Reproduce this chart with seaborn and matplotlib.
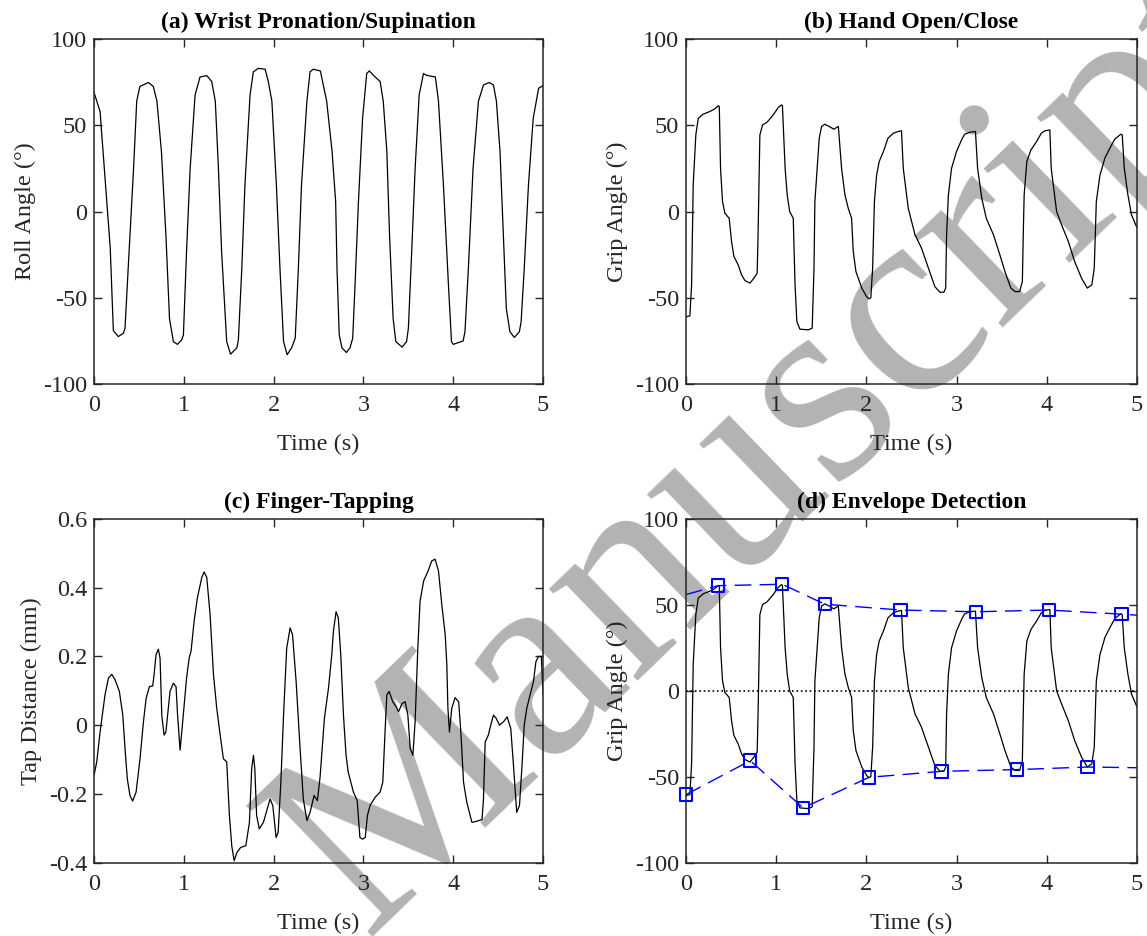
import matplotlib
matplotlib.use('Agg')
import matplotlib.pyplot as plt
import seaborn as sns

# (a) wrist pronation/supination - roll angle (deg)
roll_t = [0.0, 0.067, 0.12, 0.18, 0.215, 0.27, 0.327, 0.345, 0.38, 0.44, 0.475, 0.51, 0.605, 0.66, 0.70,
          0.75, 0.80, 0.84, 0.883, 0.928, 0.976, 0.995, 1.03, 1.07, 1.125, 1.18, 1.255, 1.31, 1.35, 1.385,
          1.42, 1.477, 1.52, 1.59, 1.607, 1.645, 1.68, 1.737, 1.774, 1.83, 1.905, 1.94, 1.98, 2.03, 2.07,
          2.11, 2.15, 2.2, 2.24, 2.275, 2.31, 2.37, 2.405, 2.44, 2.52, 2.59, 2.65, 2.69, 2.705, 2.73,
          2.76, 2.81, 2.85, 2.88, 2.906, 2.944, 2.99, 3.036, 3.065, 3.13, 3.185, 3.22, 3.26, 3.29, 3.33,
          3.36, 3.43, 3.48, 3.50, 3.537, 3.575, 3.62, 3.668, 3.70, 3.80, 3.835, 3.89, 3.946, 3.98, 4.0,
          4.11, 4.13, 4.168, 4.22, 4.28, 4.336, 4.40, 4.447, 4.48, 4.52, 4.55, 4.59, 4.63, 4.68, 4.736,
          4.755, 4.79, 4.837, 4.89, 4.95, 5.0]
roll_v = [69, 58, 21, -21, -69, -72.5, -70.5, -67.6, -33, 25, 64, 72.5, 74.8, 72.5, 64,
          35, -13.5, -62, -75.4, -77, -74.4, -71.5, -23, 25, 67.6, 78, 78.8, 75.4, 64, 25,
          -23, -75.4, -82.7, -79, -74.4, -33, 15.5, 67.6, 81, 83, 82.5, 75.4, 64, 15.5, -33,
          -75.4, -83, -79, -73.4, -33, 15.5, 64, 81, 82.5, 81.5, 64, 35, 5.8, -33, -71.5,
          -79, -81.7, -79, -73.4, -42.5, 5.8, 54, 80, 81.5, 78, 75.4, 64, 35, -13.5, -62,
          -75.4, -78.6, -75.4, -67.6, -23, 25, 67.6, 80, 79, 78, 64, 15.5, -42.5, -75.4, -77,
          -75, -69.6, -33, 25, 64, 73.4, 74.8, 73.4, 64, 35, -3.9, -56, -69.6, -73, -69.6,
          -64, -33, 15.5, 54, 71.5, 73]

# (b)/(d) hand open/close - grip angle (deg)
grip_t = [0.0, 0.044, 0.063, 0.081, 0.11, 0.137, 0.19, 0.266, 0.32, 0.358, 0.37, 0.384, 0.406, 0.432, 0.48,
          0.506, 0.532, 0.58, 0.617, 0.654, 0.71, 0.754, 0.79, 0.80, 0.82, 0.85, 0.90, 0.968, 1.024, 1.06,
          1.07, 1.10, 1.123, 1.15, 1.19, 1.21, 1.23, 1.264, 1.356, 1.40, 1.42, 1.43, 1.45, 1.478, 1.504,
          1.54, 1.59, 1.64, 1.67, 1.69, 1.726, 1.763, 1.80, 1.837, 1.855, 1.885, 1.95, 2.003, 2.03, 2.05,
          2.07, 2.09, 2.114, 2.143, 2.19, 2.24, 2.3, 2.354, 2.39, 2.41, 2.465, 2.54, 2.61, 2.69, 2.76,
          2.816, 2.86, 2.88, 2.89, 2.91, 2.945, 3.0, 3.056, 3.09, 3.15, 3.21, 3.234, 3.28, 3.33, 3.41,
          3.48, 3.537, 3.603, 3.65, 3.70, 3.73, 3.74, 3.75, 3.78, 3.825, 3.888, 3.94, 3.98, 4.035, 4.05,
          4.11, 4.165, 4.24, 4.31, 4.386, 4.45, 4.5, 4.527, 4.55, 4.59, 4.645, 4.70, 4.755, 4.82, 4.837,
          4.86, 4.9, 4.94, 5.0]
grip_v = [-61, -60.5, -42.5, 15.5, 44.4, 54, 56.4, 58, 59.5, 61.3, 61, 25, 5.8, -1, -3.9,
          -17.4, -26, -31, -36.7, -40, -41.5, -38.6, -35.7, -13.5, 44.4, 50.2, 51.8, 56, 60.3, 61.8,
          61.4, 25, 9.7, 0, -3.9, -42.5, -63.8, -68.2, -68.6, -67.6, -33, 5.8, 21, 42.5, 49.3,
          50.6, 49.3, 47.7, 48.7, 49.3, 25, 9.7, 1.9, -3.9, -23, -34.8, -44.4, -49.3, -50.6, -50,
          -33, 5.8, 21, 29, 34.8, 42.5, 45.4, 46.4, 46.8, 25, 1.9, -13.5, -21, -33, -43.5,
          -46.8, -46.8, -44.4, -13.5, 9.7, 25, 34.8, 41.5, 44.8, 46, 46.4, 25, 7.7, -3.9, -13.5,
          -25, -34.8, -44.4, -46.4, -46.4, -40.6, -13.5, 9.7, 29, 35.7, 40.6, 45.4, 46.8, 47.3, 25,
          0, -7.7, -17.4, -29, -38.6, -44.4, -42.5, -33, 5.8, 21, 31, 36.7, 42, 44.8, 44.4,
          25, 9.7, -1.9, -9.3]

# (c) finger tapping - tap distance (mm)
tap_t = [0.0, 0.03, 0.067, 0.122, 0.16, 0.197, 0.234, 0.282, 0.32, 0.345, 0.37, 0.40, 0.43, 0.468, 0.512,
         0.55, 0.58, 0.616, 0.653, 0.668, 0.69, 0.716, 0.735, 0.754, 0.78, 0.80, 0.846, 0.883, 0.913, 0.93,
         0.958, 0.987, 1.03, 1.06, 1.08, 1.114, 1.15, 1.2, 1.225, 1.255, 1.292, 1.33, 1.366, 1.40, 1.44,
         1.477, 1.507, 1.533, 1.56, 1.59, 1.633, 1.69, 1.73, 1.755, 1.775, 1.79, 1.81, 1.84, 1.886, 1.923,
         1.96, 1.99, 2.027, 2.05, 2.08, 2.11, 2.145, 2.183, 2.21, 2.25, 2.294, 2.33, 2.37, 2.405, 2.45,
         2.487, 2.517, 2.565, 2.61, 2.647, 2.665, 2.695, 2.72, 2.747, 2.777, 2.806, 2.83, 2.888, 2.93, 2.96,
         2.99, 3.02, 3.044, 3.073, 3.13, 3.185, 3.215, 3.24, 3.26, 3.285, 3.326, 3.363, 3.39, 3.43, 3.464,
         3.494, 3.52, 3.55, 3.575, 3.605, 3.63, 3.67, 3.72, 3.76, 3.797, 3.835, 3.872, 3.91, 3.928, 3.94,
         3.957, 3.983, 4.02, 4.06, 4.084, 4.114, 4.15, 4.207, 4.245, 4.32, 4.336, 4.355, 4.39, 4.417, 4.447,
         4.477, 4.514, 4.56, 4.6, 4.64, 4.67, 4.706, 4.737, 4.763, 4.79, 4.818, 4.855, 4.893, 4.92, 4.95,
         4.98, 5.0]
tap_v = [-0.146, -0.107, -0.02, 0.088, 0.137, 0.148, 0.132, 0.098, 0.029, -0.068, -0.156, -0.205, -0.221, -0.195, -0.098,
         0.01, 0.078, 0.112, 0.114, 0.146, 0.205, 0.221, 0.195, 0.029, -0.029, -0.02, 0.098, 0.122, 0.112, 0.029,
         -0.073, 0.01, 0.137, 0.197, 0.215, 0.302, 0.37, 0.43, 0.446, 0.43, 0.322, 0.146, 0.049, -0.02, -0.098,
         -0.107, -0.263, -0.351, -0.395, -0.371, -0.356, -0.351, -0.283, -0.127, -0.088, -0.127, -0.263, -0.302, -0.283, -0.249,
         -0.215, -0.234, -0.327, -0.312, -0.166, 0.029, 0.224, 0.283, 0.263, 0.127, -0.068, -0.215, -0.278, -0.254, -0.205,
         -0.22, -0.15, 0.02, 0.107, 0.205, 0.273, 0.33, 0.312, 0.205, 0.029, -0.088, -0.137, -0.195, -0.22, -0.327,
         -0.332, -0.327, -0.263, -0.234, -0.21, -0.195, -0.166, -0.02, 0.088, 0.098, 0.068, 0.054, 0.039, 0.063, 0.068,
         0.029, -0.068, -0.088, 0.01, 0.224, 0.361, 0.42, 0.449, 0.478, 0.483, 0.449, 0.351, 0.263, 0.176, 0.049,
         -0.02, 0.049, 0.08, 0.068, -0.02, -0.166, -0.224, -0.283, -0.281, -0.275, -0.215, -0.049, -0.029, 0.0, 0.029,
         0.02, 0.0, 0.01, 0.024, -0.01, -0.117, -0.254, -0.234, -0.127, 0.0, 0.049, 0.088, 0.127, 0.185, 0.2,
         0.2, 0.088]

# (d) envelope: detected peaks / troughs and the envelope curves
peak_t = [0.358, 1.068, 1.54, 2.38, 3.215, 4.024, 4.83]
peak_v = [61.2, 62, 50.4, 47, 46, 47, 44.6]
trough_t = [0.0, 0.713, 1.30, 2.03, 2.835, 3.67, 4.45]
trough_v = [-60.5, -40.7, -68.2, -50.4, -46.9, -45.9, -44.4]
upper_env_t = [0.0] + peak_t + [5.0]
upper_env_v = [56] + peak_v + [44]
lower_env_t = trough_t + [5.0]
lower_env_v = trough_v + [-44.8]

sns.set_theme(style='ticks')
plt.rcParams['font.family'] = ['Liberation Serif', 'DejaVu Serif']
plt.rcParams['axes.unicode_minus'] = False
plt.rcParams['axes.linewidth'] = 1.1
plt.rcParams['axes.edgecolor'] = '#262626'

fig = plt.figure(figsize=(11.47, 9.36), dpi=100)
ax_a = fig.add_axes([0.082, 0.5897, 0.3915, 0.3686])
ax_b = fig.add_axes([0.598, 0.5897, 0.3932, 0.3686])
ax_c = fig.add_axes([0.082, 0.0785, 0.3915, 0.367])
ax_d = fig.add_axes([0.598, 0.0785, 0.3932, 0.367])

line_kw = dict(color='black', linewidth=0.9)
sns.lineplot(x=roll_t, y=roll_v, ax=ax_a, **line_kw)
sns.lineplot(x=grip_t, y=grip_v, ax=ax_b, **line_kw)
sns.lineplot(x=tap_t, y=tap_v, ax=ax_c, **line_kw)
sns.lineplot(x=grip_t, y=grip_v, ax=ax_d, **line_kw)

# envelope detection overlay
ax_d.axhline(0, color='black', linestyle=':', linewidth=1.2)
env_kw = dict(color='blue', linewidth=1.0, linestyle=(0, (12, 6)))
sns.lineplot(x=upper_env_t, y=upper_env_v, ax=ax_d, **env_kw)
sns.lineplot(x=lower_env_t, y=lower_env_v, ax=ax_d, **env_kw)
sns.scatterplot(x=peak_t + trough_t, y=peak_v + trough_v, ax=ax_d, marker='s', s=80,
                fc='none', ec='blue', linewidth=1.5, zorder=5, clip_on=False)

titles = ['(a) Wrist Pronation/Supination', '(b) Hand Open/Close',
          '(c) Finger-Tapping', '(d) Envelope Detection']
ylabels = ['Roll Angle (°)', 'Grip Angle (°)', 'Tap Distance (mm)', 'Grip Angle (°)']
for ax, title, ylab in zip([ax_a, ax_b, ax_c, ax_d], titles, ylabels):
    ax.set_facecolor('none')
    ax.set_xlim(0, 5)
    ax.set_xticks([0, 1, 2, 3, 4, 5])
    ax.set_title(title, fontsize=17, fontweight='bold', pad=8, color='black')
    ax.set_xlabel('Time (s)', fontsize=17.5, labelpad=13, color='#262626')
    ax.set_ylabel(ylab, fontsize=17.5, labelpad=5, color='#262626')
    ax.tick_params(direction='in', top=True, right=True, length=6, width=1,
                   labelsize=17.5, colors='#262626', labelcolor='#262626')
    ax.tick_params(axis='x', pad=8)
    ax.tick_params(axis='y', pad=5)
    for sp in ax.spines.values():
        sp.set_visible(True)

for ax in [ax_a, ax_b, ax_d]:
    ax.set_ylim(-100, 100)
    ax.set_yticks([-100, -50, 0, 50, 100])
ax_c.set_ylim(-0.4, 0.6)
ax_c.set_yticks([-0.4, -0.2, 0, 0.2, 0.4, 0.6])
ax_c.set_yticklabels(['-0.4', '-0.2', '0', '0.2', '0.4', '0.6'])

# gray watermark behind the plots
fig.text(0.318, 0.0, 'Manuscript', rotation=44, rotation_mode='anchor', ha='left', va='baseline',
         fontsize=200, color='#b3b3b3', family='Liberation Serif', zorder=-1)

fig.savefig('out.png', dpi=100)
